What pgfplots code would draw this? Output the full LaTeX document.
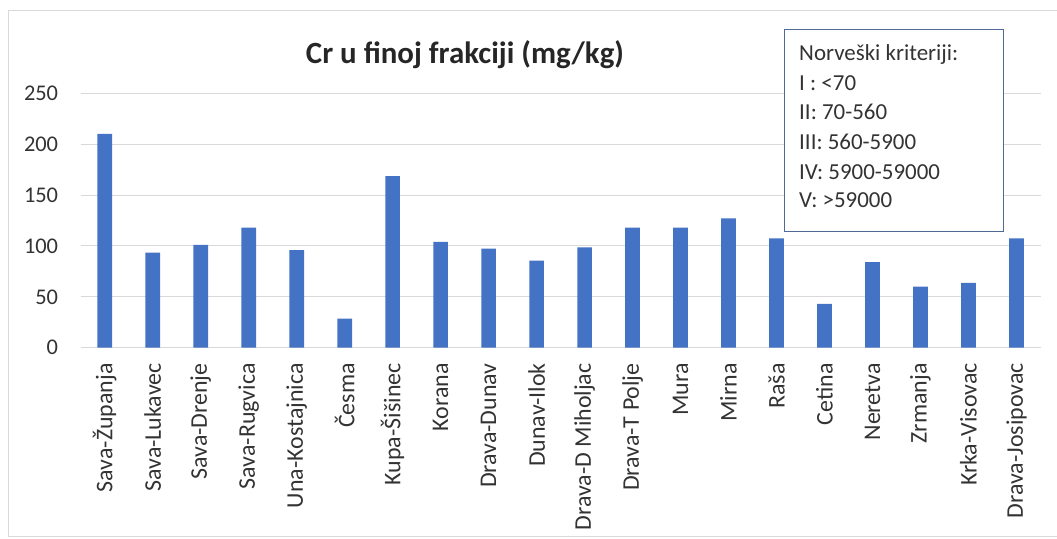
\documentclass[border=0pt]{standalone}
\usepackage{fontspec}
\setmainfont{Carlito}
\usepackage{pgfplots}
\pgfplotsset{compat=1.18}
\definecolor{barblue}{HTML}{4472C4}
\definecolor{boxblue}{HTML}{4F6A94}
\definecolor{gridgray}{HTML}{D9D9D9}
\begin{document}
\begin{tikzpicture}[x=1bp,y=1bp]
\useasboundingbox (0,0) rectangle (1057,539);
\draw[color=gridgray, line width=1bp] (1057,528.3) -- (8,528.3) -- (8,2) -- (1057,2);
\begin{axis}[
  at={(80.7bp,191.3bp)}, anchor=south west,
  scale only axis, width=959.8bp, height=254.4bp,
  xmin=-0.5, xmax=19.5, ymin=0, ymax=250,
  ytick={0,50,100,150,200,250},
  xtick={0,...,19},
  xticklabels={Sava-Županja,Sava-Lukavec,Sava-Drenje,Sava-Rugvica,Una-Kostajnica,Česma,Kupa-Šišinec,Korana,Drava-Dunav,Dunav-Ilok,Drava-D Miholjac,Drava-T Polje,Mura,Mirna,Raša,Cetina,Neretva,Zrmanja,Krka-Visovac,Drava-Josipovac},
  axis line style={draw=none},
  major tick length=0pt,
  ymajorgrids, major grid style={color=gridgray, line width=1bp},
  /pgf/number format/assume math mode=true,
  yticklabel style={anchor=east, inner xsep=22.4bp, inner ysep=0pt, font=\fontsize{22.5}{26}\selectfont, text=black!80},
  xticklabel style={rotate=90, anchor=east, inner xsep=15.5bp, inner ysep=0pt, font=\fontsize{24}{28}\selectfont, text=black!80},
]
\addplot[ybar, bar width=14.7bp, fill=barblue, draw=none] coordinates {
(0,210) (1,93.4) (2,101) (3,118) (4,96) (5,28.5) (6,168.7) (7,104) (8,97.3) (9,85.5)
(10,98.6) (11,118) (12,118) (13,127) (14,107.5) (15,43) (16,84) (17,60) (18,63.6) (19,107.5)
};
\end{axis}
\node[anchor=base, inner sep=0pt, font=\fontsize{31}{36}\selectfont\bfseries, text=black!85] at (465,475.7) {Cr u finoj frakciji (mg/kg)};
\draw[color=boxblue, line width=1bp, fill=white] (784,509) rectangle (1003,307);
\begin{scope}[every node/.style={anchor=base west, inner sep=0pt, font=\fontsize{23}{26}\selectfont, text=black!80}]
\node at (799,478) {Norveški kriteriji:};
\node at (799,448.3) {I : <70};
\node at (799,419) {II: 70-560};
\node at (799,389) {III: 560-5900};
\node at (799,359.7) {IV: 5900-59000};
\node at (799,331.7) {V: >59000};
\end{scope}
\end{tikzpicture}
\end{document}
